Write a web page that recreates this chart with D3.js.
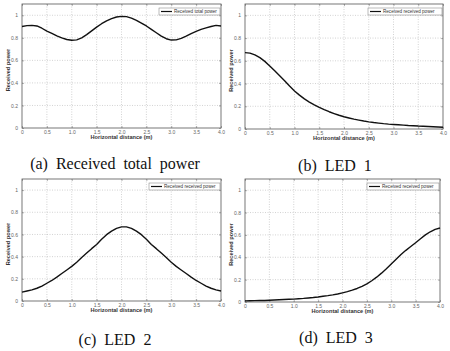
<!DOCTYPE html>
<html>
<head>
<meta charset="utf-8">
<script src="https://cdn.jsdelivr.net/npm/d3@7"></script>
<style>
  body { margin: 0; background: #fff; }
  svg { display: block; }
  .tick-label { font-family: "Liberation Sans", Arial, sans-serif; font-size: 5px; fill: #666; }
  .axis-title { font-family: "Liberation Sans", Arial, sans-serif; font-size: 5.6px; font-weight: bold; fill: #333; }
  .legend-text { font-family: "Liberation Sans", Arial, sans-serif; font-size: 4.6px; fill: #333; }
  .caption { font-family: "Liberation Serif", "Times New Roman", serif; font-size: 16px; fill: #111; word-spacing: 4px; }
</style>
</head>
<body>
<div id="chart"></div>
<script>
// horizontal distance (m), same for every panel
const distance = [0, 0.1, 0.2, 0.3, 0.4, 0.5, 0.6, 0.7, 0.8, 0.9, 1.0,
  1.1, 1.2, 1.3, 1.4, 1.5, 1.6, 1.7, 1.8, 1.9, 2.0,
  2.1, 2.2, 2.3, 2.4, 2.5, 2.6, 2.7, 2.8, 2.9, 3.0,
  3.1, 3.2, 3.3, 3.4, 3.5, 3.6, 3.7, 3.8, 3.9, 4.0];

const totalPower = [0.900, 0.908, 0.910, 0.905, 0.885, 0.860, 0.840, 0.818, 0.800, 0.785, 0.778,
  0.782, 0.800, 0.828, 0.862, 0.895, 0.925, 0.950, 0.970, 0.985, 0.990,
  0.988, 0.975, 0.955, 0.930, 0.905, 0.875, 0.845, 0.815, 0.792, 0.780,
  0.782, 0.795, 0.815, 0.838, 0.858, 0.875, 0.888, 0.900, 0.910, 0.905];

const led1Power = [0.672, 0.668, 0.652, 0.628, 0.595, 0.555, 0.512, 0.468, 0.425, 0.378, 0.335,
  0.298, 0.265, 0.237, 0.212, 0.190, 0.170, 0.152, 0.136, 0.121, 0.108,
  0.097, 0.087, 0.078, 0.070, 0.063, 0.057, 0.052, 0.047, 0.043, 0.040,
  0.037, 0.034, 0.031, 0.029, 0.026, 0.024, 0.022, 0.020, 0.018, 0.016];

const led2Power = [0.080, 0.090, 0.100, 0.115, 0.135, 0.160, 0.185, 0.215, 0.248, 0.280, 0.312,
  0.350, 0.392, 0.432, 0.472, 0.510, 0.557, 0.598, 0.630, 0.655, 0.668,
  0.668, 0.655, 0.630, 0.598, 0.557, 0.510, 0.472, 0.432, 0.392, 0.350,
  0.312, 0.280, 0.248, 0.215, 0.185, 0.160, 0.135, 0.115, 0.100, 0.090];

const led3Power = [0.010, 0.011, 0.012, 0.013, 0.014, 0.016, 0.018, 0.020, 0.022, 0.024, 0.026,
  0.029, 0.032, 0.036, 0.040, 0.045, 0.051, 0.057, 0.064, 0.072, 0.082,
  0.093, 0.106, 0.121, 0.140, 0.162, 0.190, 0.222, 0.258, 0.298, 0.340,
  0.383, 0.425, 0.462, 0.496, 0.530, 0.565, 0.600, 0.628, 0.650, 0.662];

const xTicks = [0, 0.5, 1.0, 1.5, 2.0, 2.5, 3.0, 3.5, 4.0];
const xTickLabels = ["0", "0.5", "1.0", "1.5", "2.0", "2.5", "3.0", "3.5", "4.0"];
const yTicks = [0, 0.2, 0.4, 0.6, 0.8, 1];
const yTickLabels = ["0", "0.2", "0.4", "0.6", "0.8", "1"];

const panels = [
  { values: totalPower, legend: "Received total power", caption: "(a) Received total power",
    box: { left: 22, right: 221, top: 4, bottom: 128 }, legendW: 61, capX: 115, capY: 169 },
  { values: led1Power, legend: "Received received power", caption: "(b) LED 1",
    box: { left: 245, right: 443, top: 4, bottom: 129 }, legendW: 74, capX: 335, capY: 171 },
  { values: led2Power, legend: "Received received power", caption: "(c) LED 2",
    box: { left: 22, right: 221, top: 179, bottom: 301 }, legendW: 71, capX: 115, capY: 345 },
  { values: led3Power, legend: "Received received power", caption: "(d) LED 3",
    box: { left: 245, right: 440, top: 179, bottom: 302 }, legendW: 72, capX: 336, capY: 343 }
];

const svg = d3.select("#chart").append("svg")
  .attr("width", 450)
  .attr("height", 351);

function drawPanel(p) {
  const b = p.box;
  const x = d3.scaleLinear().domain([0, 4]).range([b.left, b.right]);
  const y = d3.scaleLinear().domain([0, 1.1]).range([b.bottom, b.top]);
  const g = svg.append("g");

  // dotted grid
  g.selectAll(".gx").data(xTicks.slice(1, -1)).join("line")
    .attr("x1", d => x(d)).attr("x2", d => x(d))
    .attr("y1", b.top).attr("y2", b.bottom)
    .attr("stroke", "#b5b5b5").attr("stroke-width", 0.6)
    .attr("stroke-dasharray", "1,1.5");
  g.selectAll(".gy").data(yTicks.slice(1)).join("line")
    .attr("x1", b.left).attr("x2", b.right)
    .attr("y1", d => y(d)).attr("y2", d => y(d))
    .attr("stroke", "#b5b5b5").attr("stroke-width", 0.6)
    .attr("stroke-dasharray", "1,1.5");

  // axes (ticks inside, matlab style)
  const ax = g.append("g").attr("transform", `translate(0,${b.bottom})`)
    .call(d3.axisBottom(x).tickValues(xTicks).tickSize(-2).tickPadding(3)
      .tickFormat((d, i) => xTickLabels[i]));
  const ay = g.append("g").attr("transform", `translate(${b.left},0)`)
    .call(d3.axisLeft(y).tickValues(yTicks).tickSize(-2).tickPadding(4)
      .tickFormat((d, i) => yTickLabels[i]));
  // same ticks on top and right edges
  const axTop = g.append("g").attr("transform", `translate(0,${b.top})`)
    .call(d3.axisTop(x).tickValues(xTicks).tickSize(-2).tickFormat(""));
  const ayRight = g.append("g").attr("transform", `translate(${b.right},0)`)
    .call(d3.axisRight(y).tickValues(yTicks).tickSize(-2).tickFormat(""));
  [ax, ay, axTop, ayRight].forEach(a => {
    a.select(".domain").remove();
    a.selectAll("line").attr("stroke", "#666").attr("stroke-width", 0.5);
    a.selectAll("text").attr("class", "tick-label").attr("font-size", null).attr("font-family", null);
  });
  ax.selectAll("text").attr("dy", "0.5em");

  // frame
  g.append("rect")
    .attr("x", b.left).attr("y", b.top)
    .attr("width", b.right - b.left).attr("height", b.bottom - b.top)
    .attr("fill", "none").attr("stroke", "#555").attr("stroke-width", 0.8);

  // curve
  const line = d3.line()
    .x((d, i) => x(distance[i]))
    .y(d => y(d));
  g.append("path")
    .datum(p.values)
    .attr("d", line)
    .attr("fill", "none")
    .attr("stroke", "#111")
    .attr("stroke-width", 1.4)
    .attr("stroke-linejoin", "round");

  // legend
  const lx = b.right - p.legendW - 1, ly = b.top + 4;
  g.append("rect").attr("x", lx).attr("y", ly)
    .attr("width", p.legendW).attr("height", 7)
    .attr("fill", "#fff").attr("stroke", "#777").attr("stroke-width", 0.5);
  g.append("line").attr("x1", lx + 2).attr("x2", lx + 13)
    .attr("y1", ly + 3.5).attr("y2", ly + 3.5)
    .attr("stroke", "#111").attr("stroke-width", 1.2);
  g.append("text").attr("class", "legend-text")
    .attr("x", lx + 15).attr("y", ly + 5.2)
    .text(p.legend);

  // axis titles
  g.append("text").attr("class", "axis-title")
    .attr("text-anchor", "middle")
    .attr("x", (b.left + b.right) / 2)
    .attr("y", b.bottom + 11)
    .text("Horizontal distance (m)");
  g.append("text").attr("class", "axis-title")
    .attr("text-anchor", "middle")
    .attr("transform", `translate(${b.left - 12},${(b.top + b.bottom) / 2 + 4}) rotate(-90)`)
    .text("Received power");

  // caption
  svg.append("text").attr("class", "caption")
    .attr("text-anchor", "middle")
    .attr("x", p.capX).attr("y", p.capY)
    .text(p.caption);
}

panels.forEach(drawPanel);
</script>
</body>
</html>
